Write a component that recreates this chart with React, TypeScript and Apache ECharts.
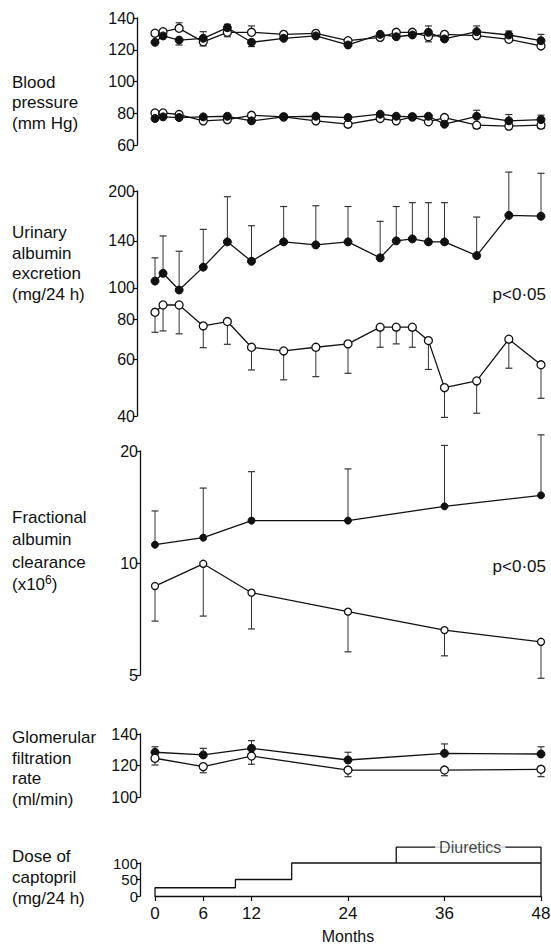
import React, { useEffect, useRef } from "react";
import * as echarts from "echarts";

// ---------- DATA ----------
const bpMonths = [0, 1, 3, 6, 9, 12, 16, 20, 24, 28, 30, 32, 34, 36, 40, 44, 48];
const sysOpen = [130.4, 131.4, 133.5, 125, 131, 131, 129.7, 130.3, 125.7, 127.8, 131, 131, 128.2, 129.7, 128.9, 126.6, 122.4];
const sysOpenTip = [null, null, 137, 122.4, 128.2, 135, null, null, null, null, null, null, 125, null, null, null, null];
const sysFilled = [124.7, 128.7, 126.1, 127.2, 133.9, 124.7, 127.2, 128.7, 123, 129.7, 128.2, 129.3, 131, 126.8, 131.4, 129.3, 125.7];
const sysFilledTip = [null, null, 123, 131.4, 136, 122, null, null, null, null, null, null, 135, null, 135, 131.8, 129.7];
const diaOpen = [80.2, 80.2, 79.2, 75.2, 76, 78.7, 77.7, 75.2, 73.1, 76.7, 75.2, 77.7, 74.6, 77.3, 72.5, 71.9, 72.5];
const diaOpenTip = [null, null, null, null, null, null, null, null, null, null, null, null, null, null, 70.4, 70, 70.4];
const diaFilled = [76.7, 77.7, 77.3, 77.7, 78.1, 75.2, 77.7, 78.1, 77.3, 79.4, 78.1, 77.7, 78.1, 73.1, 78.1, 75.2, 76];
const diaFilledTip = [null, null, null, null, null, null, null, null, null, null, null, null, null, null, 81.9, 79.2, 78.8];

const uaeMonths = [0, 1, 3, 6, 9, 12, 16, 20, 24, 28, 30, 32, 34, 36, 40, 44, 48];
const uaeFilled = [105, 111, 98.5, 116, 139, 121, 139, 136, 139, 124, 140, 142, 139, 139, 126, 168, 167];
const uaeFilledTip = [124, 145, 130, 152, 192, 156, 179, 180, 179, 161, 179, 184, 184, 184, 166, 229, 227];
const uaeOpen = [84, 88.5, 88.5, 76.2, 78.6, 65.4, 63.7, 65.4, 67, 75.5, 75.5, 75.5, 68.6, 49, 51.4, 69.3, 57.7];
const uaeOpenTip = [72.8, 73.5, 72, 65.2, 66.8, 55.6, 51.8, 53, 54.3, 65.4, 67, 65.4, 55.8, 39.6, 40.8, 56.3, 45.4];

const facMonths = [0, 6, 12, 24, 36, 48];
const facFilled = [11.2, 11.7, 13.0, 13.0, 14.2, 15.2];
const facFilledTip = [13.8, 15.9, 17.6, 17.9, 20.7, 22.1];
const facOpen = [8.67, 9.95, 8.32, 7.4, 6.6, 6.14];
const facOpenTip = [6.98, 7.2, 6.65, 5.77, 5.63, 4.9];

const gfrMonths = [0, 6, 12, 24, 36, 48];
const gfrFilled = [128.4, 126.7, 130.9, 123.5, 127.7, 127.3];
const gfrFilledTip = [131.9, 130.9, 135.8, 128.4, 133.7, 131.9];
const gfrOpen = [124.6, 119.3, 126, 117.1, 117.1, 117.6];
const gfrOpenTip = [120.3, 115.4, 120.8, 112.9, 113.5, 112.9];

const doseStepMonths = [0, 10, 17];
const doseLevels = [25, 50, 100];
const diureticsStart = 30;
const diureticsLevel = 148;
const diureticsLabelMonth = 39.2;
const endMonth = 48;

const xTicks = [0, 6, 12, 24, 36, 48];
const bpTicks = [60, 80, 100, 120, 140];
const uaeTicks = [40, 60, 80, 100, 140, 200];
const facTicks = [5, 10, 20];
const gfrTicks = [100, 120, 140];
const doseTicks = [0, 50, 100];

// ---------- CHART ----------
const FONT = '"Liberation Sans", Arial, Helvetica, sans-serif';
const INK = "#111";
const lg = (v: number) => Math.log10(v);
const id = (v: number) => v;

function lineSeries(gi: number, months: number[], vals: number[], filled: boolean, tf: (v: number) => number, size = 8) {
  return {
    type: "line",
    xAxisIndex: gi,
    yAxisIndex: gi,
    data: months.map((m, i) => [m, tf(vals[i])]),
    symbol: "circle",
    symbolSize: size,
    showSymbol: true,
    clip: false,
    lineStyle: { color: INK, width: 1.3 },
    itemStyle: filled
      ? { color: INK, borderColor: INK, borderWidth: 1 }
      : { color: "#fff", borderColor: INK, borderWidth: 1.3 },
    z: 3,
  };
}

function errSeries(gi: number, months: number[], vals: number[], tips: (number | null)[], tf: (v: number) => number) {
  const data: number[][] = [];
  months.forEach((m, i) => {
    const t = tips[i];
    if (t !== null && t !== undefined) data.push([m, tf(vals[i]), tf(t)]);
  });
  return {
    type: "custom",
    xAxisIndex: gi,
    yAxisIndex: gi,
    clip: false,
    data,
    z: 2,
    renderItem: (params: any, api: any) => {
      const p = api.coord([api.value(0), api.value(1)]);
      const t = api.coord([api.value(0), api.value(2)]);
      return {
        type: "group",
        children: [
          { type: "line", shape: { x1: p[0], y1: p[1], x2: t[0], y2: t[1] }, style: { stroke: "#333", lineWidth: 1 } },
          { type: "line", shape: { x1: t[0] - 3.5, y1: t[1], x2: t[0] + 3.5, y2: t[1] }, style: { stroke: "#333", lineWidth: 1.2 } },
        ],
      };
    },
  };
}

function yAxis(gi: number, min: number, max: number, ticks: number[], tf: (v: number) => number, offset: number, fs = 16, lh?: number) {
  const vals = ticks.map(tf);
  return {
    gridIndex: gi,
    type: "value",
    min: tf(min),
    max: tf(max),
    offset,
    axisLine: { show: true, onZero: false, lineStyle: { color: INK, width: 1.3 } },
    axisTick: { show: true, length: 4, customValues: vals, lineStyle: { color: INK, width: 1.2 } },
    axisLabel: {
      show: true,
      customValues: vals,
      showMinLabel: true,
      showMaxLabel: true,
      hideOverlap: false,
      margin: 2,
      fontFamily: FONT,
      fontSize: fs,
      lineHeight: lh,
      color: INK,
      formatter: (v: number) => String(Math.round(tf === lg ? Math.pow(10, v) : v)),
    },
    splitLine: { show: false },
  };
}

export default function App() {
  const ref = useRef<HTMLDivElement>(null);
  useEffect(() => {
    if (!ref.current) return;
    const chart = echarts.init(ref.current, undefined, { renderer: "svg" });

    const grids = [
      { left: 155, right: 10, top: 18, height: 127, outerBoundsMode: "none" },
      { left: 155, right: 10, top: 191, height: 225, outerBoundsMode: "none" },
      { left: 155, right: 10, top: 451, height: 224, outerBoundsMode: "none" },
      { left: 155, right: 10, top: 734, height: 63, outerBoundsMode: "none" },
      { left: 155, right: 10, top: 863, height: 33, outerBoundsMode: "none" },
    ];

    const xAxes = grids.map((_, gi) =>
      gi < 4
        ? { gridIndex: gi, type: "value", min: 0, max: 48, show: false }
        : {
            gridIndex: gi,
            type: "value",
            min: 0,
            max: 48,
            axisLine: { show: true, onZero: false, lineStyle: { color: INK, width: 1.3 } },
            axisTick: { show: true, length: 5, customValues: xTicks, lineStyle: { color: INK, width: 1.2 } },
            axisLabel: { show: true, customValues: xTicks, margin: 9, fontFamily: FONT, fontSize: 17, color: INK },
            splitLine: { show: false },
            name: "Months",
            nameLocation: "middle",
            nameGap: 32,
            nameTextStyle: { fontFamily: FONT, fontSize: 16, color: INK },
          }
    );

    const yAxes = [
      yAxis(0, 60, 140, bpTicks, id, 18),
      yAxis(1, 40, 200, uaeTicks, lg, 18),
      yAxis(2, 5, 20, facTicks, lg, 15),
      yAxis(3, 100, 140, gfrTicks, id, 15),
      yAxis(4, 0, 100, doseTicks, id, 15, 15, 12),
    ];

    // dose step path built from the dose arrays
    const dosePath: number[][] = [[doseStepMonths[0], 0]];
    doseStepMonths.forEach((m, i) => {
      if (i > 0) dosePath.push([m, doseLevels[i - 1]]);
      dosePath.push([m, doseLevels[i]]);
    });
    dosePath.push([endMonth, doseLevels[doseLevels.length - 1]]);
    const diureticsPath = [
      [diureticsStart, doseLevels[doseLevels.length - 1]],
      [diureticsStart, diureticsLevel],
      [endMonth, diureticsLevel],
      [endMonth, 0],
    ];

    const series: any[] = [
      errSeries(0, bpMonths, sysOpen, sysOpenTip, id),
      errSeries(0, bpMonths, sysFilled, sysFilledTip, id),
      errSeries(0, bpMonths, diaOpen, diaOpenTip, id),
      errSeries(0, bpMonths, diaFilled, diaFilledTip, id),
      lineSeries(0, bpMonths, sysOpen, false, id, 8),
      lineSeries(0, bpMonths, sysFilled, true, id, 8),
      lineSeries(0, bpMonths, diaOpen, false, id, 8),
      lineSeries(0, bpMonths, diaFilled, true, id, 8),

      errSeries(1, uaeMonths, uaeFilled, uaeFilledTip, lg),
      errSeries(1, uaeMonths, uaeOpen, uaeOpenTip, lg),
      lineSeries(1, uaeMonths, uaeFilled, true, lg, 8),
      lineSeries(1, uaeMonths, uaeOpen, false, lg, 8),

      errSeries(2, facMonths, facFilled, facFilledTip, lg),
      errSeries(2, facMonths, facOpen, facOpenTip, lg),
      lineSeries(2, facMonths, facFilled, true, lg, 7),
      lineSeries(2, facMonths, facOpen, false, lg, 7),

      errSeries(3, gfrMonths, gfrFilled, gfrFilledTip, id),
      errSeries(3, gfrMonths, gfrOpen, gfrOpenTip, id),
      lineSeries(3, gfrMonths, gfrFilled, true, id, 8),
      lineSeries(3, gfrMonths, gfrOpen, false, id, 8),

      {
        type: "line",
        xAxisIndex: 4,
        yAxisIndex: 4,
        data: dosePath,
        showSymbol: false,
        symbol: "none",
        clip: false,
        lineStyle: { color: INK, width: 1.3 },
      },
      {
        type: "line",
        xAxisIndex: 4,
        yAxisIndex: 4,
        data: diureticsPath,
        showSymbol: false,
        symbol: "none",
        clip: false,
        lineStyle: { color: INK, width: 1.3 },
      },
      {
        type: "scatter",
        xAxisIndex: 4,
        yAxisIndex: 4,
        data: [[diureticsLabelMonth, diureticsLevel]],
        symbolSize: 1,
        itemStyle: { color: "rgba(0,0,0,0)" },
        clip: false,
        z: 5,
        label: {
          show: true,
          position: "inside",
          formatter: "Diuretics",
          fontFamily: FONT,
          fontSize: 16,
          color: INK,
          backgroundColor: "#fff",
          padding: [1, 4],
        },
      },
    ];

    const txt = (x: number, y: number, text: string, lh: number, extra: any = {}) => ({
      type: "text",
      x,
      y,
      style: { text, fontFamily: FONT, fontSize: 17, fill: INK, lineHeight: lh, ...extra },
    });

    chart.setOption({
      animation: false,
      backgroundColor: "#fff",
      grid: grids,
      xAxis: xAxes,
      yAxis: yAxes,
      series,
      graphic: [
        txt(12, 72, "Blood\npressure\n(mm Hg)", 20.5),
        txt(12, 222, "Urinary\nalbumin\nexcretion\n(mg/24 h)", 20.7),
        txt(12, 506, "Fractional\nalbumin\nclearance\n(x10{sup|6})", 22.5, {
          rich: { sup: { fontSize: 12, fontFamily: FONT, fill: INK, padding: [0, 0, 9, 0] } },
        }),
        txt(12, 727, "Glomerular\nfiltration\nrate\n(ml/min)", 20.7),
        txt(12, 846, "Dose of\ncaptopril\n(mg/24 h)", 21),
        txt(546, 284, "p<0·05", 20, { align: "right" }),
        txt(546, 556, "p<0·05", 20, { align: "right" }),
      ],
    });
    return () => chart.dispose();
  }, []);

  return (
    <div
      ref={ref}
      style={{ position: "fixed", left: 0, top: 0, width: 551, height: 946, background: "#fff" }}
    />
  );
}
